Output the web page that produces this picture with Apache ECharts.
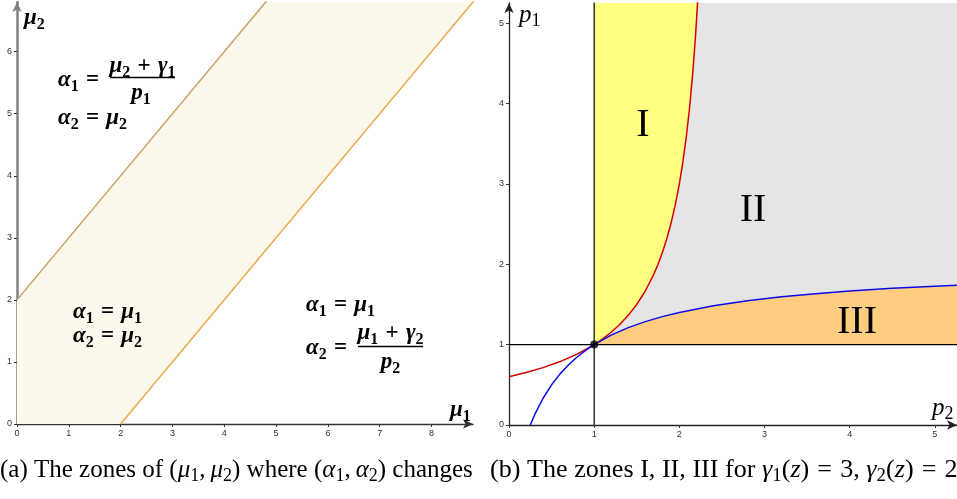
<!DOCTYPE html>
<html>
<head>
<meta charset="utf-8">
<script src="https://cdn.jsdelivr.net/npm/echarts@6/dist/echarts.min.js"></script>
<style>
  html, body { margin: 0; padding: 0; background: #fff; }
  #chart { width: 957px; height: 499px; }
</style>
</head>
<body>
<div id="chart"></div>
<script>
// ---- Panel (a): zones in the (mu1, mu2) plane ----
const muTicksX = [0, 1, 2, 3, 4, 5, 6, 7, 8];
const muTicksY = [0, 1, 2, 3, 4, 5, 6];
// boundary lines mu2 = mu1 + 2 and mu2 = mu1 - 2
const bandUpper = [[0, 2], [5, 7]];
const bandLower = [[2, 0], [9, 7]];

// ---- Panel (b): zones I, II, III in the (p2, p1) plane ----
const pTicksX = [0, 1, 2, 3, 4, 5];
const pTicksY = [0, 1, 2, 3, 4, 5];
const redCurve = [
  [0, 0.600], [0.2, 0.652], [0.4, 0.714], [0.6, 0.789], [0.8, 0.882],
  [1.0, 1.000], [1.1, 1.071], [1.2, 1.154], [1.3, 1.250], [1.4, 1.364],
  [1.5, 1.500], [1.6, 1.667], [1.7, 1.875], [1.75, 2.000], [1.8, 2.143],
  [1.85, 2.308], [1.9, 2.500], [1.95, 2.727], [2.0, 3.000], [2.04, 3.261],
  [2.08, 3.571], [2.12, 3.947], [2.16, 4.412], [2.19, 4.839], [2.22, 5.357]
];
const blueCurve = [
  [0.25, 0], [0.3, 0.125], [0.4, 0.333], [0.5, 0.500], [0.6, 0.636],
  [0.7, 0.750], [0.8, 0.846], [0.9, 0.929], [1.0, 1.000], [1.2, 1.118],
  [1.4, 1.211], [1.6, 1.286], [1.8, 1.348], [2.0, 1.400], [2.4, 1.483],
  [2.8, 1.545], [3.2, 1.595], [3.6, 1.634], [4.0, 1.667], [4.5, 1.700],
  [5.0, 1.727], [5.3, 1.741]
];
const splitP2 = 1;
const splitP1 = 1;
const pTop = 5.4;
const pRight = 5.3;

// polygons built from the curves above
const bandPoly = [[0, 0]].concat(bandLower, bandUpper.slice().reverse());
const redRight = redCurve.filter(p => p[0] >= splitP2);
const blueRight = blueCurve.filter(p => p[0] >= splitP2);
const zoneI = redRight.concat([[splitP2, pTop]]);
const zoneII = redRight.concat([[pRight, pTop]], blueRight.slice().reverse());
const zoneIII = blueRight.concat([[pRight, splitP1]]);

// ---- math text helpers (rich text) ----
function mathRich(src) {
  // letters in $...$ are italic, "_x" is a subscript, spaces in math are wider
  let out = '';
  let inMath = false;
  for (let i = 0; i < src.length; i++) {
    const c = src[i];
    if (c === '$') { inMath = !inMath; continue; }
    if (inMath && c === '_') { out += '{s|' + src[++i] + '}'; continue; }
    if (inMath && c === ' ') { out += '{w| }'; continue; }
    if (inMath && /[A-Za-z\u0370-\u03ff]/.test(c)) { out += '{m|' + c + '}'; continue; }
    out += '{r|' + c + '}';
  }
  return out;
}
function richStyles(size, bold) {
  const w = bold ? 'bold' : 'normal';
  const lh = Math.round(size * 1.25);
  const ss = Math.round(size * 0.7);
  return {
    m: { fontFamily: 'Liberation Serif', fontStyle: 'italic', fontWeight: w, fontSize: size, lineHeight: lh, fill: '#000' },
    r: { fontFamily: 'Liberation Serif', fontWeight: w, fontSize: size, lineHeight: lh, fill: '#000' },
    w: { fontFamily: 'Liberation Serif', fontSize: Math.round(size * 1.25), lineHeight: lh, fill: '#000' },
    s: { fontFamily: 'Liberation Serif', fontWeight: w, fontSize: ss, lineHeight: ss, verticalAlign: 'bottom', fill: '#000' }
  };
}
function mathText(str, x, y, size, bold, align, scaleX) {
  return {
    type: 'text', x: x, y: y, z: 100, scaleX: scaleX || 1,
    style: {
      text: mathRich(str), rich: richStyles(size, bold),
      align: align || 'left', verticalAlign: 'middle'
    }
  };
}
function fracBar(x1, x2, y) {
  return { type: 'line', z: 100, shape: { x1: x1, y1: y, x2: x2, y2: y }, style: { stroke: '#000', lineWidth: 1.3 } };
}

const F = 23;
const graphics = [
  // panel (a) axis names
  mathText('$μ_2$', 24, 18, 23, true),
  mathText('$μ_1$', 450, 410, 23, true),
  // upper-left zone
  mathText('$α_1 =$', 58, 80, F, true),
  mathText('$μ_2 + γ_1$', 142.5, 66, F, true, 'center'),
  fracBar(110, 175, 77.5),
  mathText('$p_1$', 141, 93, F, true, 'center'),
  mathText('$α_2 = μ_2$', 58, 118, F, true),
  // band
  mathText('$α_1 = μ_1$', 73, 312, F, true),
  mathText('$α_2 = μ_2$', 73, 336, F, true),
  // lower-right zone
  mathText('$α_1 = μ_1$', 306, 305, F, true),
  mathText('$α_2 =$', 306, 348, F, true),
  mathText('$μ_1 + γ_2$', 390.5, 333, F, true, 'center'),
  fracBar(358, 423, 346.5),
  mathText('$p_2$', 390.5, 362, F, true, 'center'),
  // panel (b) axis names and zone labels
  mathText('$p_1$', 519, 15, 25, false),
  mathText('$p_2$', 932, 408, 25, false),
  { type: 'text', x: 643, y: 125, z: 100, style: { text: 'I', font: '40px "Liberation Serif"', fill: '#000', align: 'center', verticalAlign: 'middle' } },
  { type: 'text', x: 753, y: 210, z: 100, style: { text: 'II', font: '40px "Liberation Serif"', fill: '#000', align: 'center', verticalAlign: 'middle' } },
  { type: 'text', x: 857, y: 322, z: 100, style: { text: 'III', font: '40px "Liberation Serif"', fill: '#000', align: 'center', verticalAlign: 'middle' } },
  // captions
  mathText('(a) The zones of $(μ_1,\u2009μ_2)$ where $(α_1,\u2009α_2)$ changes', 0, 470, 25, false, 'left', 1.0),
  mathText('(b) The zones I, II, III for $γ_1(z) = 3$, $γ_2(z) = 2$', 490, 470, 25, false, 'left', 1.045)
];

function valueAxis(gridIndex, max, ticks, lineColor, lineWidth) {
  return {
    type: 'value', gridIndex: gridIndex, min: 0, max: max,
    axisLine: { show: true, onZero: false, symbol: ['none', 'arrow'], symbolSize: [7, 10],
      lineStyle: { color: lineColor, width: lineWidth } },
    axisTick: { show: true, length: 3, customValues: ticks, lineStyle: { color: '#333' } },
    axisLabel: { show: true, customValues: ticks, fontSize: 9, color: '#333', margin: 5,
      fontFamily: 'Liberation Sans' },
    splitLine: { show: false }
  };
}

function polySeries(points, fill, xi) {
  return {
    type: 'custom', xAxisIndex: xi, yAxisIndex: xi, clip: true, silent: true, z: 1,
    data: [[0, 0]],
    renderItem: (params, api) => ({
      type: 'polygon',
      shape: { points: points.map(p => api.coord(p)) },
      style: { fill: fill }
    })
  };
}
function lineSeries(points, color, width, xi, z) {
  return {
    type: 'line', xAxisIndex: xi, yAxisIndex: xi, data: points, showSymbol: false,
    silent: true, z: z || 3, clip: true, animation: false,
    lineStyle: { color: color, width: width }
  };
}

const chart = echarts.init(document.getElementById('chart'));
chart.setOption({
  animation: false,
  backgroundColor: '#fff',
  grid: [
    { left: 17, top: 2, width: 456, height: 422 },
    { left: 509, top: 3, width: 448, height: 422 }
  ],
  xAxis: [
    valueAxis(0, 8.8, muTicksX, '#333', 1.3),
    valueAxis(1, 5.26, pTicksX, '#222', 1.3)
  ],
  yAxis: [
    valueAxis(0, 6.8, muTicksY, '#808080', 2.5),
    valueAxis(1, 5.25, pTicksY, '#222', 1.3)
  ],
  series: [
    polySeries(bandPoly, '#FDF8EC', 0),
    lineSeries(bandUpper, '#C9A063', 1.5, 0),
    lineSeries(bandLower, '#EAAA4E', 1.5, 0),
    polySeries(zoneI, '#FFFF80', 1),
    polySeries(zoneII, '#E5E5E5', 1),
    polySeries(zoneIII, '#FFCC80', 1),
    lineSeries([[splitP2, 0], [splitP2, pTop]], '#000', 1.2, 1, 2),
    lineSeries([[0, splitP1], [pRight, splitP1]], '#000', 1.2, 1, 2),
    lineSeries(redCurve, '#D40000', 1.5, 1),
    lineSeries(blueCurve, '#0A0AF0', 1.5, 1),
    {
      type: 'scatter', xAxisIndex: 1, yAxisIndex: 1, data: [[splitP2, splitP1]],
      symbolSize: 8, itemStyle: { color: '#000' }, z: 5, silent: true
    }
  ],
  graphic: graphics
});
</script>
</body>
</html>
